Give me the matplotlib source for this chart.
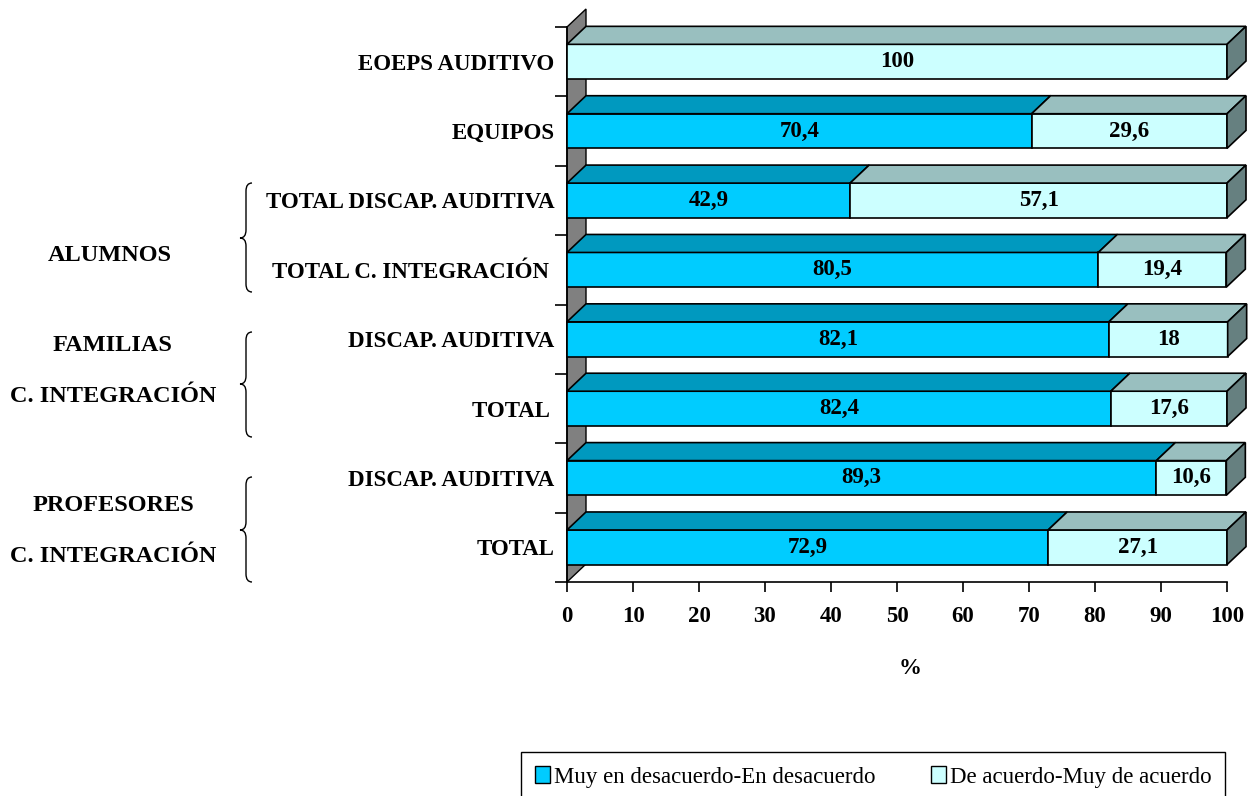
import matplotlib
matplotlib.use('Agg')
import matplotlib.pyplot as plt
from matplotlib.patches import Polygon, Patch, PathPatch
from matplotlib.path import Path

plt.rcParams['font.family'] = ['Liberation Serif', 'DejaVu Serif']

# data (top to bottom as shown)
categories = ['EOEPS AUDITIVO', 'EQUIPOS', 'TOTAL DISCAP. AUDITIVA', 'TOTAL C. INTEGRACIÓN ',
              'DISCAP. AUDITIVA', 'TOTAL ', 'DISCAP. AUDITIVA', 'TOTAL']
desacuerdo = [0, 70.4, 42.9, 80.5, 82.1, 82.4, 89.3, 72.9]
acuerdo = [100, 29.6, 57.1, 19.4, 18, 17.6, 10.6, 27.1]
value_labels_des = ['', '70,4', '42,9', '80,5', '82,1', '82,4', '89,3', '72,9']
value_labels_acu = ['100', '29,6', '57,1', '19,4', '18', '17,6', '10,6', '27,1']
series_names = ['Muy en desacuerdo-En desacuerdo', 'De acuerdo-Muy de acuerdo']
x_ticks = [0, 10, 20, 30, 40, 50, 60, 70, 80, 90, 100]
groups = ['ALUMNOS', 'FAMILIAS', 'C. INTEGRACIÓN', 'PROFESORES', 'C. INTEGRACIÓN']

# colours: front, top, side
blue = ('#00CCFF', '#0099BF', '#007FA0')
cyan = ('#CCFFFF', '#99BFBF', '#668080')

W, H = 1260, 796
fig = plt.figure(figsize=(W / 100, H / 100), dpi=100)
ax = fig.add_axes([567 / W, 1 - 582 / H, (1227 - 567) / W, (582 - 27) / H])
n = len(categories)
ax.set_xlim(0, 100)
ax.set_ylim(-0.5, n - 0.5)

# depth of the 3D effect in data units
dx = 19 / 6.6
dy = 18 / (555 / n)
hh = 0.25

# grey back wall
wall = Polygon([(0, -0.5), (dx, -0.5 + dy), (dx, n - 0.5 + dy), (0, n - 0.5)],
               closed=True, facecolor='#808080', edgecolor='black', lw=1,
               clip_on=False, zorder=1)
ax.add_patch(wall)

for i in range(n):
    y = n - 1 - i
    left = 0
    last = None
    for val, col, lab in [(desacuerdo[i], blue, value_labels_des[i]),
                          (acuerdo[i], cyan, value_labels_acu[i])]:
        if val <= 0:
            continue
        r = left + val
        front = Polygon([(left, y - hh), (r, y - hh), (r, y + hh), (left, y + hh)],
                        closed=True, facecolor=col[0], edgecolor='black', lw=1.2,
                        clip_on=False, zorder=3)
        top = Polygon([(left, y + hh), (r, y + hh), (r + dx, y + hh + dy), (left + dx, y + hh + dy)],
                      closed=True, facecolor=col[1], edgecolor='black', lw=1.2,
                      clip_on=False, zorder=3)
        ax.add_patch(front)
        ax.add_patch(top)
        ax.text(left + val / 2, y, lab, ha='center', va='center',
                fontsize=16.5, fontweight='bold', zorder=5)
        left = r
        last = col
    side = Polygon([(left, y - hh), (left + dx, y - hh + dy), (left + dx, y + hh + dy), (left, y + hh)],
                   closed=True, facecolor=last[2], edgecolor='black', lw=1.2,
                   clip_on=False, zorder=3)
    ax.add_patch(side)

# axes styling
for s in ['top', 'right']:
    ax.spines[s].set_visible(False)
ax.spines['left'].set_linewidth(1.2)
ax.spines['bottom'].set_linewidth(1.2)
ax.set_facecolor('none')
ax.set_yticks(range(n))
ax.set_yticklabels(categories[::-1], fontsize=16.5, fontweight='bold')
ax.set_yticks([k - 0.5 for k in range(n + 1)], minor=True)
ax.tick_params(axis='y', which='major', length=0, pad=9)
ax.tick_params(axis='y', which='minor', length=9, width=1.2)
ax.set_xticks(x_ticks)
ax.set_xticklabels([str(t) for t in x_ticks], fontsize=16.5, fontweight='bold')
ax.tick_params(axis='x', length=7, width=1.2, pad=10)


def fx(px):
    return px / W


def fy(py):
    return 1 - py / H


fig.text(fx(910), fy(668), '%', ha='center', va='center', fontsize=16.5, fontweight='bold')

# group labels on the left
group_pos = [(110, 255), (112, 345), (113, 397), (113, 505), (113, 557)]
for g, (gx, gy) in zip(groups, group_pos):
    fig.text(fx(gx), fy(gy), g, ha='center', va='center', fontsize=17.5, fontweight='bold')

# curly braces
braces = [(183, 238, 292), (332, 384, 437), (477, 530, 582)]
x1, xm, x0, rr = 252, 246, 240, 8
for yt, ym, yb in braces:
    verts = [(x1, yt), (xm, yt), (xm, yt + rr),
             (xm, ym - rr),
             (xm, ym), (x0, ym),
             (xm, ym), (xm, ym + rr),
             (xm, yb - rr),
             (xm, yb), (x1, yb)]
    codes = [Path.MOVETO, Path.CURVE3, Path.CURVE3,
             Path.LINETO,
             Path.CURVE3, Path.CURVE3,
             Path.CURVE3, Path.CURVE3,
             Path.LINETO,
             Path.CURVE3, Path.CURVE3]
    verts = [(fx(a), fy(b)) for a, b in verts]
    fig.add_artist(PathPatch(Path(verts, codes), transform=fig.transFigure,
                             facecolor='none', edgecolor='black', lw=1))

# legend
handles = [Patch(facecolor=blue[0], edgecolor='black', lw=1),
           Patch(facecolor=cyan[0], edgecolor='black', lw=1)]
leg = fig.legend(handles, series_names, loc='upper left',
                 bbox_to_anchor=(fx(521), fy(752)), ncol=2, fontsize=16.5,
                 frameon=True, fancybox=False, framealpha=1, edgecolor='black',
                 handlelength=0.65, handleheight=0.75, handletextpad=0.15,
                 columnspacing=2.45, borderpad=0.62, borderaxespad=0)
leg.get_frame().set_linewidth(1)

fig.savefig('out.png', dpi=100)
